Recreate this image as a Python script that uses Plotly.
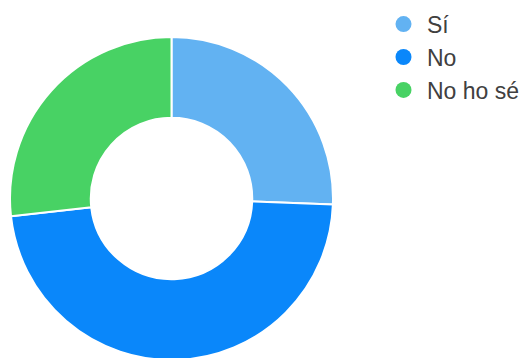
import plotly.graph_objects as go

# Survey answers
labels = ["Sí", "No", "No ho sé"]
values = [22, 41, 23]
colors = ["#62B2F2", "#0A87FA", "#48D264"]

fig = go.Figure()

# Donut (page adds an 8px body margin, so positions are offset by it)
fig.add_trace(
    go.Pie(
        labels=labels,
        values=values,
        hole=0.5,
        sort=False,
        direction="clockwise",
        rotation=0,
        marker=dict(colors=colors, line=dict(color="white", width=2)),
        textinfo="none",
        hoverinfo="label+percent",
        showlegend=False,
        domain=dict(x=[2 / 527, 325 / 527], y=[6 / 358, 329 / 358]),
    )
)

# Circle markers for the legend
for name, color in zip(labels, colors):
    fig.add_trace(
        go.Scatter(
            x=[None],
            y=[None],
            mode="markers",
            name=name,
            marker=dict(symbol="circle", size=19, color=color),
        )
    )

fig.update_layout(
    width=527,
    height=358,
    margin=dict(l=0, r=0, t=0, b=0, autoexpand=False),
    plot_bgcolor="white",
    paper_bgcolor="white",
    xaxis=dict(visible=False),
    yaxis=dict(visible=False),
    legend=dict(
        x=372 / 527,
        y=1.015,
        xanchor="left",
        yanchor="top",
        font=dict(family="Liberation Sans, Arial", size=23, color="#404040"),
        itemsizing="trace",
        itemwidth=37,
        bgcolor="rgba(0,0,0,0)",
    ),
)

fig.write_html("out.html")
